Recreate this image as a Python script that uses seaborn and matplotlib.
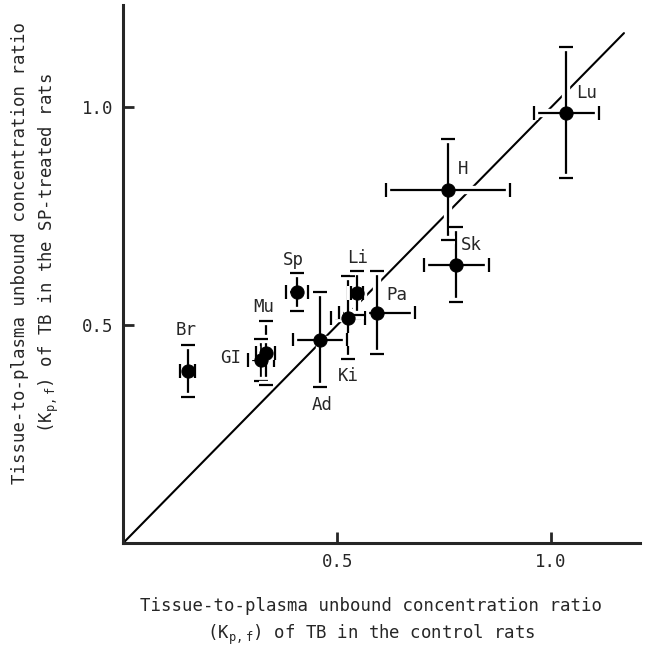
import numpy as np
import pandas as pd
import matplotlib
matplotlib.use("Agg")
import matplotlib.pyplot as plt
import matplotlib.patheffects as pe
import seaborn as sns

# tissues and their Kp,f values (control vs SP-treated)
tissues = ["Br", "GI", "Mu", "Sp", "Ad", "Ki", "Li", "Pa", "Sk", "H", "Lu"]
kp_control = [0.151, 0.322, 0.333, 0.406, 0.460, 0.525, 0.547, 0.593, 0.778, 0.759, 1.035]
kp_sp = [0.395, 0.421, 0.436, 0.576, 0.467, 0.517, 0.574, 0.529, 0.639, 0.811, 0.987]
err_control = [0.017, 0.030, 0.022, 0.026, 0.062, 0.040, 0.014, 0.088, 0.076, 0.145, 0.076]
err_sp = [0.059, 0.048, 0.073, 0.043, 0.109, 0.095, 0.050, 0.095, 0.086, 0.115, 0.150]

# label anchor positions in data units
label_x = [0.147, 0.250, 0.328, 0.398, 0.464, 0.526, 0.547, 0.640, 0.813, 0.794, 1.083]
label_y = [0.490, 0.424, 0.542, 0.649, 0.317, 0.383, 0.654, 0.569, 0.683, 0.859, 1.033]

df = pd.DataFrame({"tissue": tissues, "control": kp_control, "sp": kp_sp,
                   "xerr": err_control, "yerr": err_sp})

sns.set_style("ticks")
plt.rcParams["font.family"] = ["DejaVu Sans Mono", "DejaVu Sans"]
plt.rcParams["mathtext.default"] = "regular"

fig = plt.figure(figsize=(6.48, 6.52), dpi=100)
ax = fig.add_axes([0.19, 0.167, 0.798, 0.825])

# identity line
ax.plot([0, 1.17], [0, 1.17], color="black", lw=1.5, zorder=1)

white = [pe.withStroke(linewidth=6, foreground="white")]
eb = ax.errorbar(df["control"], df["sp"], xerr=df["xerr"], yerr=df["yerr"],
                 fmt="none", ecolor="black", elinewidth=1.6, capsize=5,
                 capthick=1.6, zorder=2)
for c in eb[1]:
    c.set_path_effects(white)
for c in eb[2]:
    c.set_path_effects(white)

sns.scatterplot(data=df, x="control", y="sp", color="black", s=90,
                edgecolor="black", zorder=3, ax=ax, legend=False)

for name, lx, ly in zip(tissues, label_x, label_y):
    ax.text(lx, ly, name, fontsize=12.5, ha="center", va="center", zorder=4)

ax.set_xlim(0, 1.208)
ax.set_ylim(0, 1.234)
ax.set_xticks([0.5, 1.0])
ax.set_yticks([0.5, 1.0])
ax.set_xticklabels(["0.5", "1.0"])
ax.set_yticklabels(["0.5", "1.0"])
ax.tick_params(direction="in", length=8, width=2, labelsize=12.5, pad=7)
sns.despine(ax=ax)
for s in ["left", "bottom"]:
    ax.spines[s].set_linewidth(2.2)

ax.set_xlabel("Tissue-to-plasma unbound concentration ratio\n"
              "(K$_{p,f}$) of TB in the control rats", fontsize=12.5,
              linespacing=1.5)
ax.set_ylabel("Tissue-to-plasma unbound concentration ratio\n"
              "(K$_{p,f}$) of TB in the SP-treated rats", fontsize=12.5,
              linespacing=1.5)
ax.xaxis.set_label_coords(0.48, -0.1)
ax.yaxis.set_label_coords(-0.12, 0.54)

fig.savefig("out.png", dpi=100)
